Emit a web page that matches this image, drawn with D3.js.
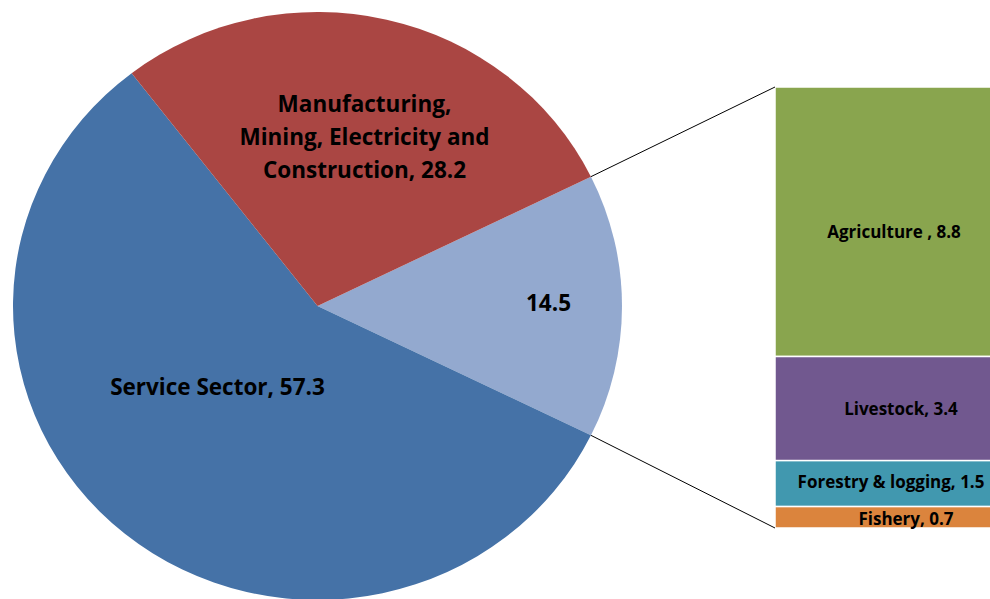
<!DOCTYPE html>
<html>
<head>
<meta charset="utf-8">
<script src="https://cdn.jsdelivr.net/npm/d3@7"></script>
<style>
  body { margin: 0; background: #fff; }
  text { font-family: "Open Sans", Lato, sans-serif; font-weight: bold; fill: #000; }
</style>
</head>
<body>
<div id="chart"></div>
<script>
// Pie data (share of GDP, %)
var pieNames = ["Others", "Service Sector", "Manufacturing,\nMining, Electricity and\nConstruction"];
var pieValues = [14.5, 57.3, 28.2];
var pieColors = ["#93A9CF", "#4572A7", "#AA4643"];

// Breakdown of the "others" slice (bar of pie), top to bottom
var barNames = ["Agriculture ", "Livestock", "Forestry & logging", "Fishery"];
var barValues = [8.8, 3.4, 1.5, 0.7];
var barColors = ["#89A54E", "#71588F", "#4198AF", "#DB843D"];

var svgWidth = 990;
var svgHeight = 599;

var svg = d3.select("#chart")
    .append("svg")
    .attr("width", svgWidth)
    .attr("height", svgHeight);

// Pie geometry (the original is slightly squashed vertically)
var cx = 317.5, cy = 306;
var rx = 304.5, ry = 294;

var total = d3.sum(pieValues);
// centre the "others" slice on 3 o'clock, like Excel does
var start = Math.PI / 2 - Math.PI * pieValues[0] / total;

var pie = d3.pie()
    .sort(null)
    .startAngle(start)
    .endAngle(start + 2 * Math.PI);

var arcs = pie(pieValues);

var arc = d3.arc()
    .innerRadius(0)
    .outerRadius(ry);

var pieGroup = svg.append("g")
    .attr("transform", `translate(${cx}, ${cy}) scale(${rx / ry}, 1)`);

pieGroup.selectAll("path")
    .data(arcs)
    .join("path")
    .attr("d", arc)
    .attr("fill", (d, i) => pieColors[i]);

// Bar of pie
var barX = 775;
var barW = 240;
var yScale = d3.scaleLinear()
    .domain([0, d3.sum(barValues)])
    .range([528, 87]);

// cumulative from the bottom (Fishery is at the base)
var stacked = [];
var acc = 0;
for (var i = barValues.length - 1; i >= 0; i--) {
    stacked[i] = { y0: acc, y1: acc + barValues[i] };
    acc += barValues[i];
}

svg.append("g")
    .selectAll("rect")
    .data(stacked)
    .join("rect")
    .attr("x", barX)
    .attr("width", barW)
    .attr("y", d => yScale(d.y1))
    .attr("height", d => yScale(d.y0) - yScale(d.y1))
    .attr("fill", (d, i) => barColors[i])
    .attr("stroke", "#fff")
    .attr("stroke-width", 1.5);

// connector lines from the "others" slice edges to the bar
function piePoint(a) {
    return [cx + rx * Math.sin(a), cy - ry * Math.cos(a)];
}
var pTop = piePoint(arcs[0].startAngle);
var pBot = piePoint(arcs[0].endAngle);

svg.append("line")
    .attr("x1", pTop[0]).attr("y1", pTop[1])
    .attr("x2", barX).attr("y2", yScale(d3.sum(barValues)))
    .attr("stroke", "#000").attr("stroke-width", 1);
svg.append("line")
    .attr("x1", pBot[0]).attr("y1", pBot[1])
    .attr("x2", barX).attr("y2", yScale(0))
    .attr("stroke", "#000").attr("stroke-width", 1);

// Pie labels (positions relative to the pie centre)
var pieLabelPos = [[231, -3], [-100, 81], [47, -169]];
var pieLabels = svg.append("g");
arcs.forEach((d, i) => {
    var lines = (i == 0 ? String(pieValues[i]) : pieNames[i] + ", " + pieValues[i]).split("\n");
    var t = pieLabels.append("text")
        .attr("x", cx + pieLabelPos[i][0])
        .attr("y", cy + pieLabelPos[i][1])
        .attr("text-anchor", "middle")
        .style("font-size", "22.5px");
    lines.forEach((ln, j) => {
        t.append("tspan")
            .attr("x", cx + pieLabelPos[i][0])
            .attr("dy", j == 0 ? (0.35 - (lines.length - 1) * 1.47 / 2) + "em" : "1.47em")
            .text(ln);
    });
});

// Bar labels (small nudges to follow the original placement)
var barLabelDx = [-1, 6, -4, 11];
var barLabelDy = [10, 0, -2, 2];
svg.append("g")
    .selectAll("text")
    .data(stacked)
    .join("text")
    .attr("x", (d, i) => barX + barW / 2 + barLabelDx[i])
    .attr("y", (d, i) => yScale((d.y0 + d.y1) / 2) + barLabelDy[i])
    .attr("dy", "0.35em")
    .attr("text-anchor", "middle")
    .style("font-size", "17px")
    .text((d, i) => barNames[i] + ", " + barValues[i]);
</script>
</body>
</html>
